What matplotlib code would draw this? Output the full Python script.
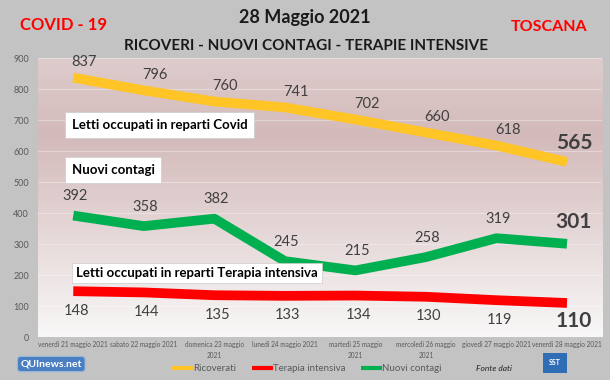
import matplotlib.pyplot as plt
import numpy as np

plt.rcParams['font.family'] = ['Lato', 'DejaVu Sans']

giorni = ["venerdì 21 maggio 2021", "sabato 22 maggio 2021", "domenica 23 maggio\n2021",
          "lunedì 24 maggio 2021", "martedì 25 maggio\n2021", "mercoledì 26 maggio\n2021",
          "giovedì 27 maggio 2021", "venerdì 28 maggio 2021"]
ricoverati = [837, 796, 760, 741, 702, 660, 618, 565]
terapia = [148, 144, 135, 133, 134, 130, 119, 110]
contagi = [392, 358, 382, 245, 215, 258, 319, 301]

GIALLO = '#FFC425'
ROSSO = '#FF0000'
VERDE = '#00B050'
GRIGIO = '#595959'

fig = plt.figure(figsize=(6.1, 3.8), dpi=100)
fig.patch.set_facecolor('#c3c3c3')
ax = fig.add_axes([0.0623, 0.113, 0.925, 0.734])
x = np.arange(len(giorni))
ax.set_xlim(-0.5, len(giorni) - 0.5)

# sfondo sfumato
grad = np.linspace(0, 1, 256).reshape(-1, 1, 1)
top = np.array([0.975, 0.97, 0.97])
mid = np.array([0.83, 0.73, 0.73])
bot = np.array([0.87, 0.80, 0.80])
cols = np.where(grad < 0.72,
                top + (mid - top) * (grad / 0.72),
                mid + (bot - mid) * ((grad - 0.72) / 0.28))
ax.imshow(cols, extent=[-0.5, len(giorni) - 0.5, 900, 0], aspect='auto', zorder=0)
ax.set_ylim(0, 900)

ax.set_yticks(range(0, 1000, 100))
ax.grid(axis='y', color='#ffffff', alpha=0.35, lw=0.8, zorder=1)
ax.tick_params(axis='y', length=0, labelsize=6.5, colors=GRIGIO, pad=6.5)
ax.set_xticks(x)
ax.set_xticklabels(giorni, fontsize=4.7, color=GRIGIO, linespacing=1.6)
ax.tick_params(axis='x', length=0, pad=3)
for s in ax.spines.values():
    s.set_visible(False)

l1, = ax.plot(x, ricoverati, color=GIALLO, lw=7, solid_capstyle='butt', zorder=3, label='Ricoverati')
l2, = ax.plot(x, terapia, color=ROSSO, lw=7, solid_capstyle='butt', zorder=3, label='Terapia intensiva')
l3, = ax.plot(x, contagi, color=VERDE, lw=7, solid_capstyle='butt', zorder=3, label='Nuovi contagi')

n = len(giorni) - 1
for i in range(n):
    ax.annotate(str(ricoverati[i]), (x[i], ricoverati[i]), xytext=(8, 11), textcoords='offset points',
                ha='center', va='center', fontsize=10.5, color='#404040')
    ax.annotate(str(contagi[i]), (x[i], contagi[i]), xytext=(1, 14), textcoords='offset points',
                ha='center', va='center', fontsize=10.5, color='#404040')
    ax.annotate(str(terapia[i]), (x[i], terapia[i]), xytext=(2, -14), textcoords='offset points',
                ha='center', va='center', fontsize=10.5, color='#404040')
for serie, dy in [(ricoverati, 14), (contagi, 16), (terapia, -13)]:
    ax.annotate(str(serie[n]), (x[n], serie[n]), xytext=(5, dy), textcoords='offset points',
                ha='center', va='center', fontsize=15, fontweight='bold', color='#404040')

ax.text(-0.02, 684, 'Letti occupati in reparti Covid', fontsize=9.5, fontweight='bold',
        va='center', ha='left', bbox=dict(boxstyle='square,pad=0.5', fc='white', ec='#cccccc', lw=0.5), zorder=5)
ax.text(-0.02, 539, 'Nuovi contagi', fontsize=9.5, fontweight='bold',
        va='center', ha='left', bbox=dict(boxstyle='square,pad=0.5', fc='white', ec='#cccccc', lw=0.5), zorder=5)
ax.text(0.04, 206, 'Letti occupati in reparti Terapia intensiva', fontsize=9.5, fontweight='bold',
        va='center', ha='left', bbox=dict(boxstyle='square,pad=0.3', fc='white', ec='#cccccc', lw=0.5), zorder=5)

fig.text(0.5, 0.955, '28 Maggio 2021', ha='center', va='center', fontsize=13, fontweight='bold', color='#1a1a1a')
fig.text(0.502, 0.88, 'RICOVERI - NUOVI CONTAGI - TERAPIE INTENSIVE', ha='center', va='center',
         fontsize=11, fontweight='bold', color='#1a1a1a')
fig.text(0.105, 0.935, 'COVID - 19', ha='center', va='center', fontsize=12, fontweight='bold', color=ROSSO)
fig.text(0.9, 0.928, 'TOSCANA', ha='center', va='center', fontsize=11.5, fontweight='bold', color=ROSSO)

fig.legend(handles=[l1, l2, l3], loc='center', bbox_to_anchor=(0.503, 0.029), ncol=3, frameon=False,
           fontsize=7, handlelength=2.2, handletextpad=0.0, columnspacing=1.6,
           labelcolor=GRIGIO)
for h in fig.legends[0].get_lines():
    h.set_linewidth(3)

fig.text(0.81, 0.029, 'Fonte dati', ha='center', va='center', fontsize=6, style='italic', color='#222222')
fig.text(0.084, 0.042, 'QUInews.net', ha='center', va='center', fontsize=7.5, fontweight='bold',
         color='white', bbox=dict(boxstyle='round,pad=0.3', fc='#4a7fc1', ec='#9bb9dd', lw=0.8))
fig.text(0.91, 0.045, 'SST', ha='center', va='center', fontsize=5, fontweight='bold',
         color='white', bbox=dict(boxstyle='square,pad=0.9', fc='#2f6db5', ec='none'))

fig.savefig('out.png', dpi=100, facecolor=fig.get_facecolor())
